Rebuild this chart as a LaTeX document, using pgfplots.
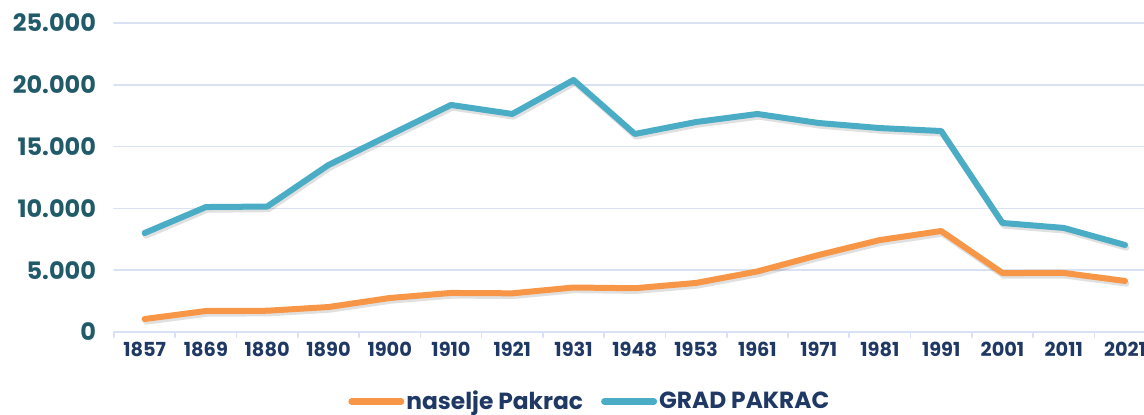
\documentclass[border=0pt]{standalone}
\usepackage{fontspec}
\setmainfont{Poppins}
\usepackage{pgfplots}
\pgfplotsset{compat=1.18}
\definecolor{cblue}{HTML}{4BACC6}
\definecolor{corange}{HTML}{F79646}
\definecolor{gridc}{HTML}{D9E2F3}
\definecolor{ytext}{HTML}{215A69}
\definecolor{xtext}{HTML}{1F3864}
\begin{document}
\begin{tikzpicture}[x=1pt,y=1pt]
\useasboundingbox (0,0) rectangle (858,310.5);
\begin{axis}[
  at={(85.5pt,61.5pt)}, anchor=south west,
  scale only axis, width=772.5pt, height=231.75pt,
  xmin=-0.5, xmax=16.31, ymin=0, ymax=25000,
  xtick={0,...,16},
  xticklabels={1857,1869,1880,1890,1900,1910,1921,1931,1948,1953,1961,1971,1981,1991,2001,2011,2021},
  minor xtick={-0.5,0.5,...,15.5},
  ytick={0,5000,...,25000},
  scaled y ticks=false,
  axis x line*=bottom, axis y line*=left,
  x axis line style={draw=gridc, line width=1.2pt},
  y axis line style={draw=none},
  ymajorgrids, major grid style={draw=gridc, line width=1.2pt},
  tick align=outside,
  major tick length=0pt,
  minor tick length=4pt,
  minor x tick style={draw=gridc, line width=1.2pt},
  ytick style={draw=none},
  yticklabel style={font=\fontsize{18}{20}\selectfont\bfseries, text=ytext,
    /pgf/number format/1000 sep={.}, /pgf/number format/assume math mode=true, xshift=-10pt},
  xticklabel style={font=\fontsize{14.5}{16}\selectfont\bfseries, text=xtext, yshift=-4pt},
  legend style={at={(0.462,-0.225)}, anchor=center, legend columns=2, draw=none, fill=none,
    font=\fontsize{17.5}{19}\selectfont\bfseries, text=xtext,
    nodes={inner xsep=1.5pt},
    /tikz/every even column/.append style={column sep=12pt}},
  legend image code/.code={\draw[#1, line width=5pt, line cap=round] (0pt,0pt) -- (37pt,0pt);},
  line join=round, line cap=round,
]
% shadows
\addplot[black, opacity=0.12, line width=4.5pt, xshift=1pt, yshift=-2pt, forget plot] coordinates {
(0,1050)(1,1700)(2,1720)(3,2020)(4,2750)(5,3160)(6,3130)(7,3600)(8,3540)(9,3970)(10,4900)(11,6230)(12,7440)(13,8170)(14,4770)(15,4780)(16,4130)};
\addplot[black, opacity=0.12, line width=4.5pt, xshift=1pt, yshift=-2pt, forget plot] coordinates {
(0,8010)(1,10110)(2,10150)(3,13510)(4,15940)(5,18370)(6,17640)(7,20390)(8,16020)(9,16990)(10,17640)(11,16910)(12,16500)(13,16260)(14,8820)(15,8420)(16,7040)};
\addplot[corange, line width=4.5pt] coordinates {
(0,1050)(1,1700)(2,1720)(3,2020)(4,2750)(5,3160)(6,3130)(7,3600)(8,3540)(9,3970)(10,4900)(11,6230)(12,7440)(13,8170)(14,4770)(15,4780)(16,4130)};
\addlegendentry{naselje Pakrac}
\addplot[cblue, line width=4.5pt] coordinates {
(0,8010)(1,10110)(2,10150)(3,13510)(4,15940)(5,18370)(6,17640)(7,20390)(8,16020)(9,16990)(10,17640)(11,16910)(12,16500)(13,16260)(14,8820)(15,8420)(16,7040)};
\addlegendentry{GRAD PAKRAC}
\end{axis}
\end{tikzpicture}
\end{document}
